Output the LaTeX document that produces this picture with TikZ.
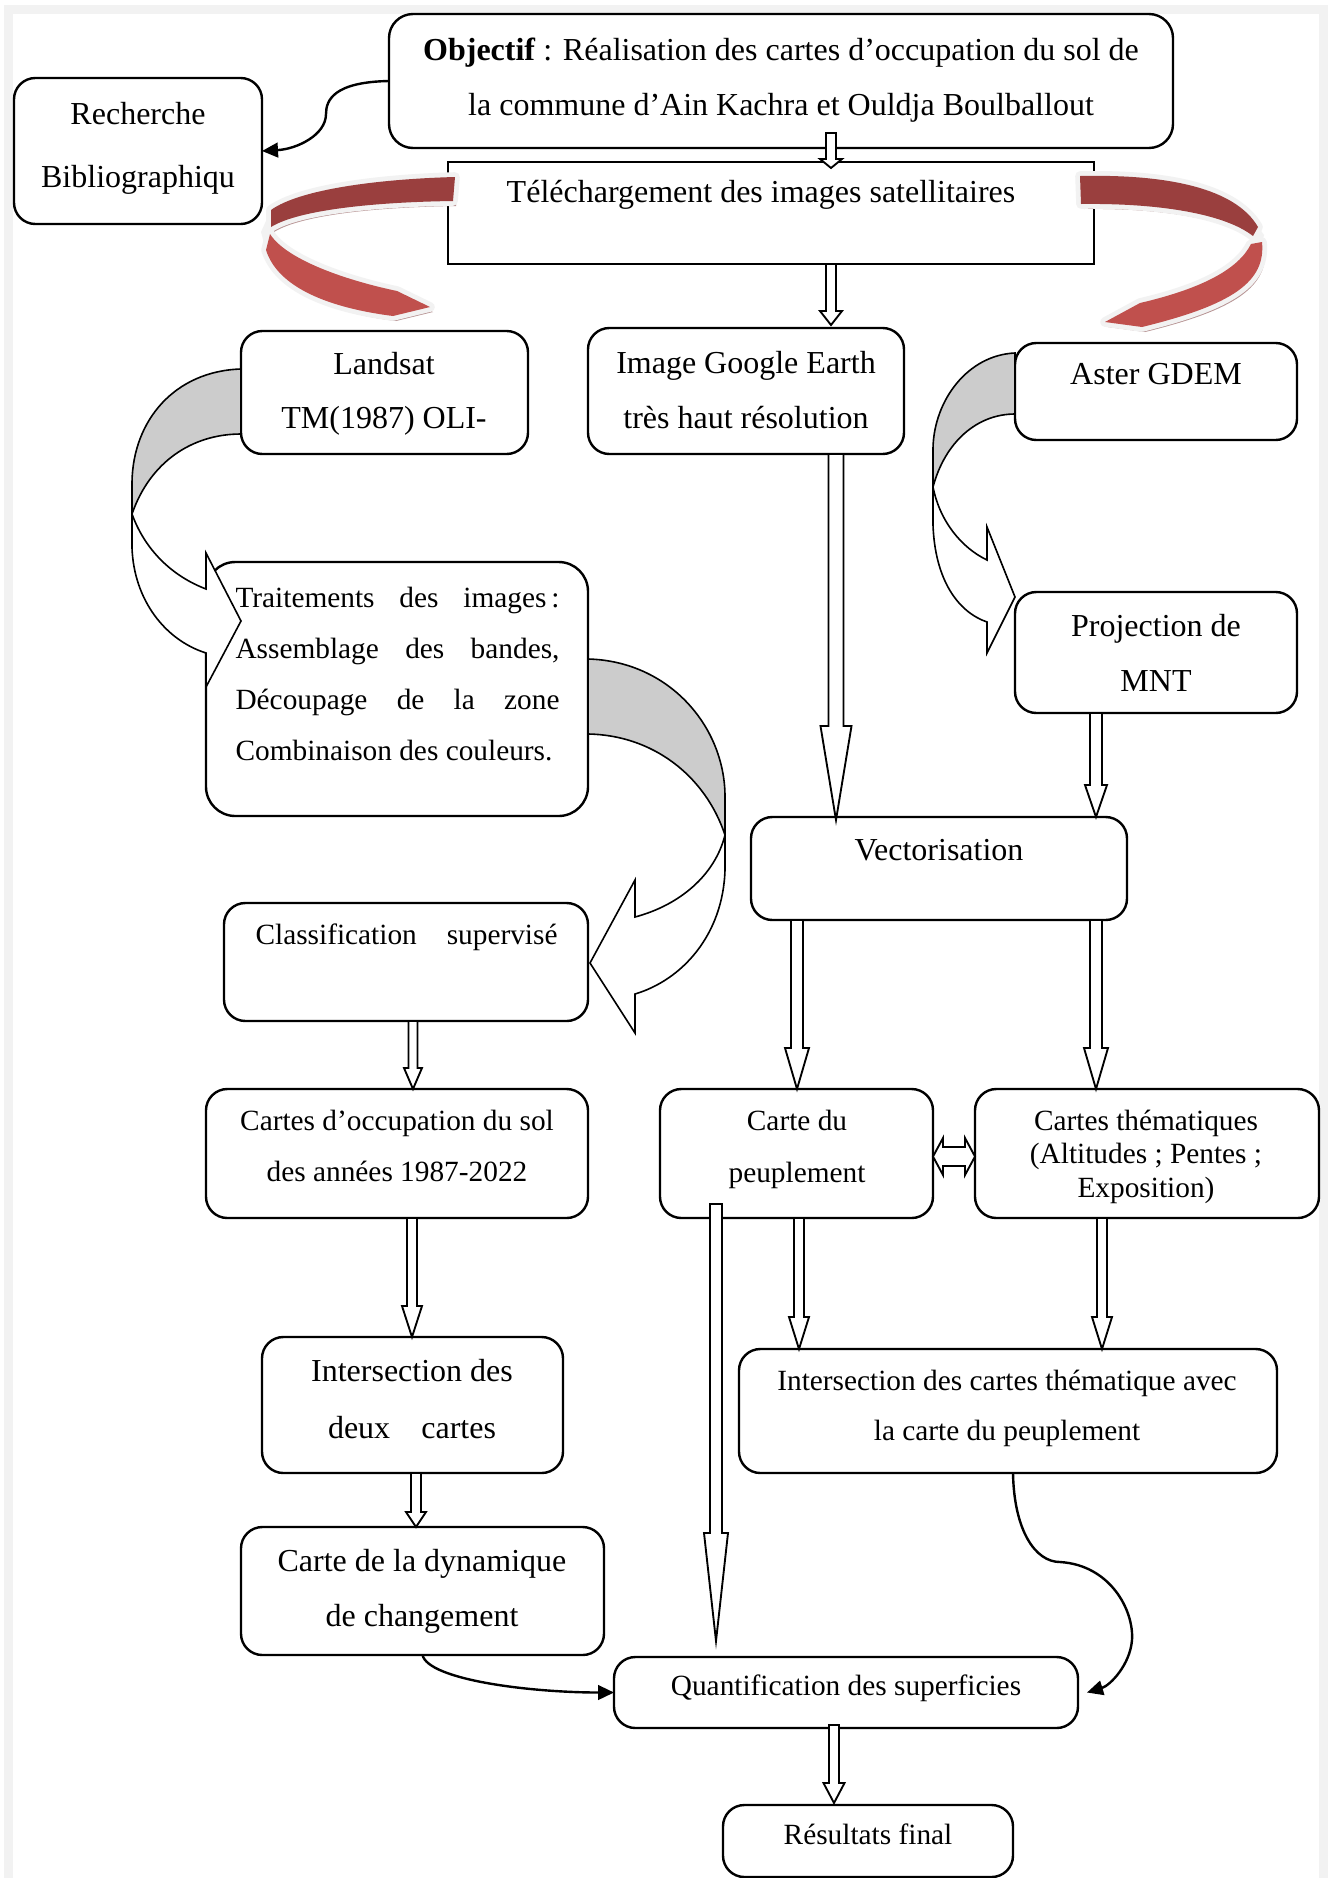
\documentclass[tikz,border=0pt]{standalone}
\usepackage{fontspec}
\setmainfont{Liberation Serif}
\usetikzlibrary{calc,arrows.meta}
\definecolor{framegray}{HTML}{F2F2F2}
\definecolor{ribdark}{HTML}{9A3F3E}
\definecolor{riblight}{HTML}{C0504D}
\definecolor{ribshadow}{HTML}{B89494}
\definecolor{ribedge}{HTML}{F2F2F2}
\definecolor{arcgray}{HTML}{CCCCCC}
\tikzset{
  mybox/.style={draw, line width=0.9pt, rounded corners=8pt, inner sep=0pt, outer sep=0pt, fill=white},
  tA/.style={font=\fontsize{12}{14}\selectfont, inner sep=0pt, anchor=base},
  tB/.style={font=\fontsize{11}{13}\selectfont, inner sep=0pt, anchor=base},
  holl/.style={draw, fill=white, line width=0.7pt, line join=miter},
  curvarrow/.style={draw, line width=0.6pt, line join=miter},
  conn/.style={draw, line width=0.9pt, -{Triangle[length=6pt,width=5.5pt]}},
}
\newcommand{\mkbox}[6][]{\node[mybox,#1,minimum width={(#4-#2)*0.375pt},minimum height={(#5-#3)*0.375pt}] (#6) at ({(#2+#4)/2},{(#3+#5)/2}) {};}
% vertical hollow arrow: from, to, head length, half shaft, half head (px)
\newcommand{\hollowv}[5]{\draw[holl] let \p1=(#1), \p2=(#2) in
  (\x1-#4*0.375pt,\y1) -- (\x1-#4*0.375pt,\y2+#3*0.375pt) -- (\x1-#5*0.375pt,\y2+#3*0.375pt) -- (\x1,\y2) -- (\x1+#5*0.375pt,\y2+#3*0.375pt) -- (\x1+#4*0.375pt,\y2+#3*0.375pt) -- (\x1+#4*0.375pt,\y1) -- cycle;}
% horizontal double hollow arrow
\newcommand{\hollowh}[5]{\draw[holl] let \p1=(#1), \p2=(#2) in
  (\x1,\y1) -- (\x1+#3*0.375pt,\y1+#5*0.375pt) -- (\x1+#3*0.375pt,\y1+#4*0.375pt) -- (\x2-#3*0.375pt,\y1+#4*0.375pt) -- (\x2-#3*0.375pt,\y1+#5*0.375pt) -- (\x2,\y1) -- (\x2-#3*0.375pt,\y1-#5*0.375pt) -- (\x2-#3*0.375pt,\y1-#4*0.375pt) -- (\x1+#3*0.375pt,\y1-#4*0.375pt) -- (\x1+#3*0.375pt,\y1-#5*0.375pt) -- cycle;}
\def\ribLdark{(455,177) .. controls (380,179) and (300,189) .. (271,210) -- (271,227) .. controls (300,209) and (380,202) .. (453,201) -- cycle}
\def\ribLlight{(270,234) .. controls (285,258) and (340,279) .. (397,291) -- (430,307) -- (393,316) .. controls (330,308) and (278,288) .. (266,250) -- cycle}
\def\ribRdark{(1080,176) .. controls (1170,174) and (1236,189) .. (1258,227) -- (1253,236) .. controls (1225,214) and (1160,203) .. (1081,204) -- cycle}
\def\ribRlight{(1251,244) -- (1262,242) .. controls (1266,282) and (1232,305) .. (1142,327) -- (1105,322) -- (1140,303) .. controls (1200,289) and (1238,270) .. (1251,244) -- cycle}
\begin{document}
\begin{tikzpicture}[x=0.375pt,y=-0.375pt]
\useasboundingbox (0,0) rectangle (1332,1878);
\fill[white] (0,0) rectangle (1332,1878);
\draw[framegray, line width=3.4pt] (8.5,9.5) rectangle (1323.5,1900);

% boxes
\mkbox[rounded corners=9pt]{389}{14}{1173}{148}{obj}
\mkbox{14}{78}{262}{224}{rech}
\mkbox[sharp corners]{448}{162}{1094}{264}{tele}
\mkbox{241}{331}{528}{454}{land}
\mkbox{588}{328}{904}{454}{goog}
\mkbox{1015}{343}{1297}{440}{aster}
\mkbox[rounded corners=11pt]{206}{562}{588}{816}{trait}
\mkbox{1015}{592}{1297}{713}{proj}
\mkbox{751}{817}{1127}{920}{vect}
\mkbox{224}{903}{588}{1021}{class}
\mkbox{206}{1089}{588}{1218}{occ}
\mkbox{660}{1089}{933}{1218}{peup}
\mkbox{975}{1089}{1319}{1218}{them}
\mkbox{262}{1337}{563}{1473}{inter1}
\mkbox{739}{1349}{1277}{1473}{inter2}
\mkbox{241}{1527}{604}{1655}{dyn}
\mkbox{614}{1657}{1078}{1728}{quant}
\mkbox{723}{1805}{1013}{1877}{res}

% texts
\node[tA] (objt1) at (781,60) {\textbf{Objectif} : Réalisation des cartes d’occupation du sol de};
\node[tA] (objt2) at (781,115) {la commune d’Ain Kachra et Ouldja Boulballout};
\node[tA] (recht1) at (138,124) {Recherche};
\node[tA] (recht2) at (138,187) {Bibliographiqu};
\node[tA] (telet) at (761,202) {Téléchargement des images satellitaires};
\node[tA] (landt1) at (384,374) {Landsat};
\node[tA] (landt2) at (384,428) {TM(1987) OLI-};
\node[tA] (googt1) at (746,373) {Image Google Earth};
\node[tA] (googt2) at (746,428) {très haut résolution};
\node[tA] (astert) at (1156,384) {Aster GDEM};
\node[tB,anchor=base west] (trt1) at (235,607) {\makebox[121.5pt][s]{Traitements des images\,:}};
\node[tB,anchor=base west] (trt2) at (235,658) {\makebox[121.5pt][s]{Assemblage des bandes,}};
\node[tB,anchor=base west] (trt3) at (235,709) {\makebox[121.5pt][s]{Découpage de la zone}};
\node[tB,anchor=base west] (trt4) at (235,760) {Combinaison des couleurs.};
\node[tA] (projt1) at (1156,636) {Projection de};
\node[tA] (projt2) at (1156,691) {MNT};
\node[tA] (vectt) at (939,860) {Vectorisation};
\node[tB,anchor=base west] (classt) at (255,944) {\makebox[113.25pt][s]{Classification supervisé}};
\node[tB] (occt1) at (397,1130) {Cartes d’occupation du sol};
\node[tB] (occt2) at (397,1181) {des années 1987-2022};
\node[tB] (peupt1) at (797,1130) {Carte du};
\node[tB] (peupt2) at (797,1182) {peuplement};
\node[tB] (themt1) at (1146,1130) {Cartes thématiques};
\node[tB] (themt2) at (1146,1163) {(Altitudes ; Pentes ;};
\node[tB] (themt3) at (1146,1197) {Exposition)};
\node[tA] (int1t1) at (412,1381) {Intersection des};
\node[tA] (int1t2) at (412,1438) {\makebox[63pt][s]{deux cartes}};
\node[tB] (int2t1) at (1007,1390) {Intersection des cartes thématique avec};
\node[tB] (int2t2) at (1007,1440) {la carte du peuplement};
\node[tA] (dynt1) at (422,1571) {Carte de la dynamique};
\node[tA] (dynt2) at (422,1626) {de changement};
\node[tB] (quantt) at (846,1695) {Quantification des superficies};
\node[tB] (rest) at (868,1844) {Résultats final};

% red ribbons
\fill[ribshadow, shift={(3,5)}] \ribLdark;
\fill[ribshadow, shift={(3,5)}] \ribLlight;
\draw[ribedge, line width=3.6pt, line join=round] \ribLdark;
\draw[ribedge, line width=3.6pt, line join=round] \ribLlight;
\fill[ribedge] (271,210) -- (272,230) -- (270,240) -- (266,250) -- (261,232) -- cycle;
\fill[ribdark] \ribLdark;
\fill[riblight] \ribLlight;
\fill[ribshadow, shift={(3,5)}] \ribRdark;
\fill[ribshadow, shift={(3,5)}] \ribRlight;
\draw[ribedge, line width=3.6pt, line join=round] \ribRdark;
\draw[ribedge, line width=3.6pt, line join=round] \ribRlight;
\fill[ribedge] (1258,227) -- (1264,235) -- (1262,244) -- (1249,245) -- (1252,234) -- cycle;
\fill[ribdark] \ribRdark;
\fill[riblight] \ribRlight;

% gray curved arrows
\filldraw[curvarrow, fill=arcgray] (241,369) .. controls (175,371) and (133,420) .. (132,482) -- (132,514) .. controls (150,462) and (192,434) .. (241,434) -- cycle;
\filldraw[curvarrow, fill=white] (132,514) -- (132,548) .. controls (134,600) and (165,640) .. (206,653) -- (206,687) -- (241,621) -- (206,553) -- (206,589) .. controls (172,576) and (145,550) .. (132,514) -- cycle;
\filldraw[curvarrow, fill=arcgray] (588,659) .. controls (668,661) and (724,725) .. (725,795) -- (725,835) .. controls (705,775) and (652,735) .. (588,734) -- cycle;
\filldraw[curvarrow, fill=white] (725,835) -- (725,870) .. controls (723,935) and (682,980) .. (635,994) -- (635,1033) -- (590,963) -- (635,880) -- (635,917) .. controls (680,905) and (715,875) .. (725,835) -- cycle;
\filldraw[curvarrow, fill=arcgray] (1015,353) .. controls (968,355) and (934,400) .. (933,448) -- (933,487) .. controls (945,442) and (977,414) .. (1015,414) -- cycle;
\filldraw[curvarrow, fill=white] (933,487) -- (933,525) .. controls (935,580) and (958,612) .. (987,622) -- (987,653) -- (1015,597) -- (987,527) -- (987,560) .. controls (962,548) and (940,522) .. (933,487) -- cycle;

% hollow arrows
\hollowv{$(obj.south)+(50,-15)$}{$(tele.north)+(60,6)$}{9}{5}{11}
\hollowv{$(tele.south)+(60,0)$}{$(goog.north)+(85,-3)$}{14}{5}{11}
\hollowv{$(goog.south)+(90,0)$}{$(vect.north)+(-103,3)$}{94}{7.5}{15.5}
\hollowv{$(proj.south)+(-60,0)$}{$(vect.north)+(157,0)$}{32}{6}{11}
\hollowv{$(vect.south)+(-142,0)$}{$(peup.north)+(0.5,0)$}{41}{6}{12}
\hollowv{$(vect.south)+(157,0)$}{$(them.north)+(-51,0)$}{41}{6}{12}
\hollowv{$(class.south)+(7,0)$}{$(occ.north)+(16,0)$}{21}{4.5}{9}
\hollowv{$(occ.south)+(15,0)$}{$(inter1.north)+(-0.5,0)$}{31}{5}{10}
\hollowv{$(inter1.south)+(3.5,0)$}{$(dyn.north)+(-6.5,0)$}{15}{5}{10}
\hollowv{$(peup.south)+(2.5,0)$}{$(inter2.north)+(-209,0)$}{32}{5}{10}
\hollowv{$(them.south)+(-45,0)$}{$(inter2.north)+(94,0)$}{32}{5}{10}
\hollowv{$(quant.south)+(-12,-3)$}{$(res.north)+(-34,-2)$}{20}{5}{10.5}
\hollowv{$(peup.south)+(-80.5,-14)$}{$(quant.north)+(-130,-16)$}{108}{6}{12}
\hollowh{$(peup.east)+(0,3)$}{$(them.west)+(0,3)$}{10}{9.5}{18.5}

% curved connectors
\coordinate (m1) at (326,114);
\coordinate (m2) at (1060,1562);
\coordinate (m3) at (1132,1640);
\draw[conn] (obj.west) .. controls +(-55,1) and +(0,-14) .. (m1) .. controls +(0,21) and +(35,-2) .. (rech.east);
\draw[conn] (dyn.south) .. controls +(6,25) and +(-83,0) .. (quant.west);
\draw[conn] ($(inter2.south)+(5,0)$) .. controls +(1,57) and +(-25,0) .. (m2) .. controls +(50,3) and +(2,-30) .. (m3) .. controls +(-2,25) and +(23,-7) .. ($(quant.east)+(9,0)$);
\end{tikzpicture}
\end{document}
